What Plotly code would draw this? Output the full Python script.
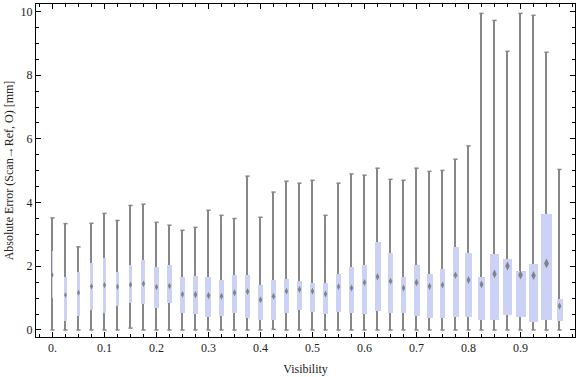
import plotly.graph_objects as go

# ---- data ----
visibility = [0.0, 0.025, 0.05, 0.075, 0.1, 0.125, 0.15, 0.175, 0.2, 0.225,
              0.25, 0.275, 0.3, 0.325, 0.35, 0.375, 0.4, 0.425, 0.45, 0.475,
              0.5, 0.525, 0.55, 0.575, 0.6, 0.625, 0.65, 0.675, 0.7, 0.725,
              0.75, 0.775, 0.8, 0.825, 0.85, 0.875, 0.9, 0.925, 0.95, 0.975]

err_min = [0.0, 0.0, 0.0, 0.0, 0.0, 0.0, 0.06, 0.0, 0.0, 0.0,
           0.0, 0.0, 0.0, 0.0, 0.0, 0.0, 0.0, 0.02, 0.0, 0.0,
           0.0, 0.0, 0.0, 0.0, 0.0, 0.0, 0.0, 0.0, 0.0, 0.0,
           0.0, 0.0, 0.0, 0.0, 0.0, 0.0, 0.0, 0.0, 0.0, 0.0]

err_q1 = [0.99, 0.29, 0.45, 0.64, 0.52, 0.76, 0.86, 0.83, 0.70, 0.86,
          0.54, 0.51, 0.42, 0.45, 0.54, 0.39, 0.32, 0.32, 0.54, 0.64,
          0.58, 0.51, 0.58, 0.54, 0.51, 0.61, 0.54, 0.54, 0.45, 0.39,
          0.39, 0.42, 0.42, 0.32, 0.32, 0.48, 0.42, 0.26, 0.32, 0.29]

err_median = [1.73, 1.10, 1.17, 1.37, 1.41, 1.36, 1.42, 1.45, 1.35, 1.38,
              1.12, 1.11, 1.08, 1.06, 1.17, 1.21, 0.95, 1.06, 1.22, 1.27,
              1.22, 1.13, 1.36, 1.32, 1.49, 1.67, 1.53, 1.32, 1.49, 1.37,
              1.41, 1.72, 1.57, 1.43, 1.76, 2.01, 1.73, 1.71, 2.09, 0.75]

err_q3 = [2.48, 1.66, 1.82, 2.09, 2.26, 1.82, 2.04, 2.20, 1.98, 2.04,
          1.66, 1.70, 1.66, 1.57, 1.72, 1.72, 1.41, 1.57, 1.60, 1.54,
          1.48, 1.48, 1.76, 1.98, 2.04, 2.76, 2.42, 1.66, 2.04, 1.76,
          1.92, 2.61, 2.42, 1.66, 2.39, 2.23, 1.85, 2.07, 3.64, 0.97]

err_max = [3.52, 3.34, 2.61, 3.35, 3.66, 3.44, 3.91, 3.95, 3.38, 3.29,
           3.13, 3.22, 3.76, 3.60, 3.50, 4.83, 3.54, 4.33, 4.67, 4.61,
           4.70, 3.60, 4.61, 4.90, 4.86, 5.08, 4.73, 4.70, 5.08, 4.98,
           5.01, 5.36, 5.78, 9.94, 9.72, 8.75, 9.94, 9.88, 8.72, 5.04]

# relative box weight (box width scales with it)
box_weight = [0.8, 2.2, 3.3, 3.5, 3.5, 3.0, 3.7, 4.0, 4.3, 4.3,
              4.7, 5.7, 6.0, 5.5, 5.0, 5.0, 5.0, 5.0, 5.0, 5.0,
              5.0, 5.0, 4.5, 5.0, 5.0, 6.0, 5.0, 5.0, 6.0, 6.0,
              5.3, 6.0, 7.0, 6.7, 8.7, 9.0, 10.0, 9.0, 11.0, 6.0]

x_ticks = [0.0, 0.1, 0.2, 0.3, 0.4, 0.5, 0.6, 0.7, 0.8, 0.9]
x_ticktext = ["0.", "0.1", "0.2", "0.3", "0.4", "0.5", "0.6", "0.7", "0.8", "0.9"]
y_ticks = [0, 2, 4, 6, 8, 10]

# ---- styling ----
PX_PER_UNIT = 520.0
FONT = dict(family="Liberation Serif, Times New Roman, serif", size=12, color="#222222")
GRAY = "#878787"
BOX = "#cbd2f5"

box_widths = [w / PX_PER_UNIT for w in box_weight]
whisker_len = [mx - mn for mx, mn in zip(err_max, err_min)]
box_len = [q3 - q1 for q3, q1 in zip(err_q3, err_q1)]
diamond_sizes = [3.2 + 0.35 * w for w in box_weight]

fig = go.Figure()
fig.add_trace(go.Bar(x=visibility, y=whisker_len, base=err_min,
                     width=1.6 / PX_PER_UNIT, marker=dict(color=GRAY, line=dict(width=0)),
                     hoverinfo="skip", showlegend=False))
fig.add_trace(go.Bar(x=visibility, y=box_len, base=err_q1,
                     width=box_widths, marker=dict(color=BOX, line=dict(width=0)),
                     hoverinfo="skip", showlegend=False))
fig.add_trace(go.Scatter(x=visibility + visibility, y=err_min + err_max, mode="markers",
                         marker=dict(symbol="line-ew", size=3,
                                     line=dict(width=1.5, color=GRAY)),
                         hoverinfo="skip", showlegend=False))
fig.add_trace(go.Scatter(x=visibility, y=err_median, mode="markers",
                         marker=dict(symbol="diamond-tall", size=diamond_sizes,
                                     color="#767676", opacity=0.85, line=dict(width=0)),
                         hoverinfo="skip", showlegend=False))

axis_common = dict(showline=True, linecolor="black", linewidth=1, mirror="ticks",
                   ticks="inside", ticklen=5, tickwidth=1, tickcolor="black",
                   showgrid=False, zeroline=False, tickfont=FONT, automargin=False)

fig.update_layout(
    width=576, height=377,
    margin=dict(l=36, r=1, t=4, b=40),
    paper_bgcolor="white", plot_bgcolor="white",
    barmode="overlay", bargap=0,
    font=FONT,
    hovermode=False,
    xaxis=dict(range=[-0.0317, 1.0048], tickvals=x_ticks, ticktext=x_ticktext,
               minor=dict(dtick=0.025, tick0=0, ticks="inside", ticklen=3,
                          tickcolor="black", tickwidth=1, showgrid=False),
               title=dict(text="Visibility", font=FONT, standoff=10),
               **axis_common),
    yaxis=dict(range=[-0.22, 10.235], tickvals=y_ticks,
               minor=dict(dtick=0.5, tick0=0, ticks="inside", ticklen=3,
                          tickcolor="black", tickwidth=1, showgrid=False),
               title=dict(text="Absolute Error (Scan\u2192Ref, O) [mm]", font=FONT, standoff=4),
               **axis_common),
)

fig.write_html("out.html", config={"displayModeBar": False},
               post_script="document.body.style.margin='0';document.body.style.padding='0';")
